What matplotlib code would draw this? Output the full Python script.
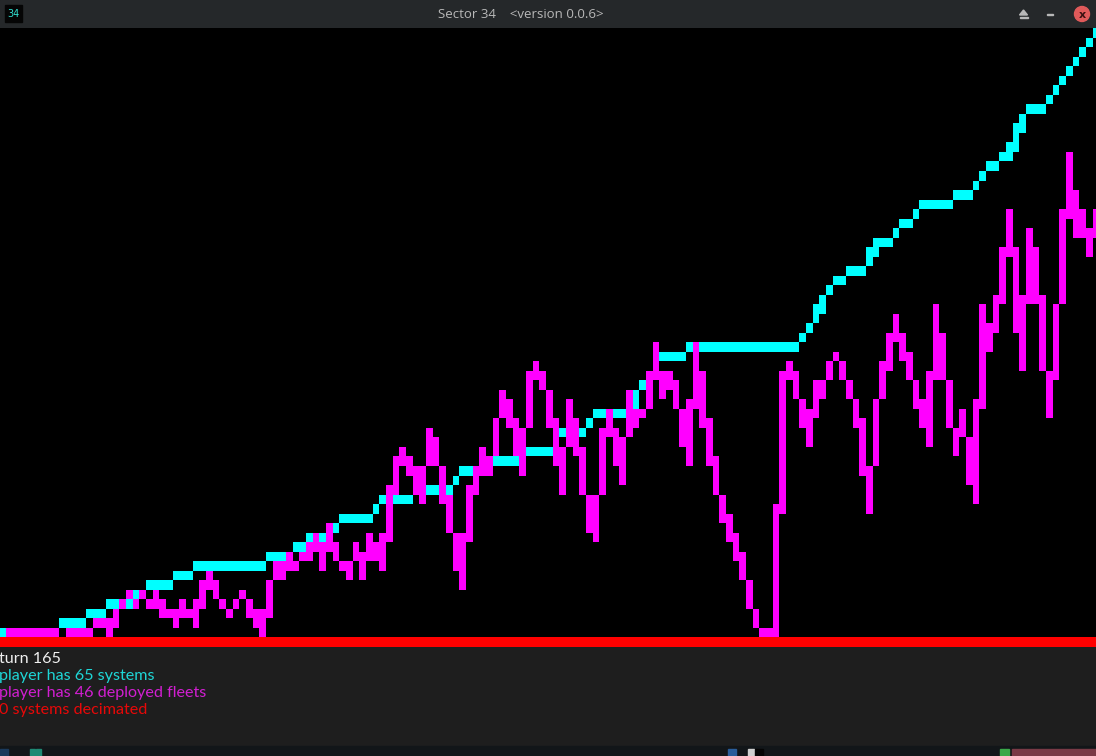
import numpy as np
import matplotlib
matplotlib.use("Agg")
import matplotlib.pyplot as plt
from matplotlib.patches import Rectangle, Circle, Polygon

# ---- data (one value per turn, turns 0..165) ----
turns = list(range(166))
systems = [1,1,1,1,1,1,1,1,1,2,
           2,2,2,3,3,3,4,4,4,4,
           5,5,6,6,6,6,7,7,7,8,
           8,8,8,8,8,8,8,8,8,8,
           9,9,9,9,10,10,11,11,11,11,
           12,13,13,13,13,13,14,15,15,15,
           15,15,16,16,16,16,16,16,17,18,
           18,18,18,18,19,19,19,19,19,20,
           20,20,20,21,22,22,22,22,23,24,
           24,24,24,24,24,26,27,28,29,30,
           30,30,30,31,31,31,31,31,31,31,
           31,31,31,31,31,31,31,31,31,31,
           32,33,34,36,37,38,38,39,39,39,
           40,42,42,42,43,44,44,45,46,46,
           46,46,46,47,47,47,48,49,50,50,
           51,51,53,55,56,56,56,57,58,59,
           60,61,62,63,64,65]
fleets = [0,1,1,1,1,1,1,1,1,0,
          1,1,1,1,2,2,1,3,4,5,
          4,5,4,5,3,3,2,4,3,2,
          6,7,5,4,3,4,5,4,2,1,
          5,8,7,9,8,9,9,11,8,12,
          9,8,7,10,7,11,9,8,14,18,
          20,19,17,15,22,20,17,13,10,6,
          16,16,20,18,21,26,24,22,18,27,
          29,28,25,21,16,25,22,18,13,11,
          20,24,21,17,26,23,24,25,31,26,
          28,26,23,19,31,25,21,17,14,12,
          10,8,5,2,1,1,1,27,29,27,
          24,21,27,26,29,30,29,26,25,21,
          14,23,28,30,34,31,29,26,24,21,
          35,30,25,20,24,19,15,35,31,34,
          38,45,37,29,43,39,33,24,32,39,
          51,43,45,41,45,46]
decimated = [0] * 166

turn_label = "turn 165"
status_lines = ["player has 65 systems", "player has 46 deployed fleets", "0 systems decimated"]
title = "Sector 34    <version 0.0.6>"

# ---- colours ----
CYAN = "#00ffff"
MAGENTA = "#ff00ff"
RED = "#ff0000"

W, H = 1096, 756
fig = plt.figure(figsize=(W / 100, H / 100), dpi=100)
fig.patch.set_facecolor("#1e1e1e")

# background / chrome axes in pixel coordinates
bg = fig.add_axes([0, 0, 1, 1])
bg.set_xlim(0, W)
bg.set_ylim(H, 0)
bg.axis("off")
bg.add_patch(Rectangle((0, 0), W, 28, color="#25282a", zorder=1))
bg.add_patch(Rectangle((0, 746), W, 10, color="#121619", zorder=1))
# small taskbar icons
for x0, wd, c in [(0, 8, "#1b3a5c"), (30, 5, "#1f8a74"), (36, 5, "#1f8a74"), (728, 8, "#2a5d9a"),
                  (748, 6, "#d0d0d0"), (755, 8, "#050505"), (1000, 9, "#3aa848"), (1012, 84, "#7a3a46")]:
    bg.add_patch(Rectangle((x0, 749), wd, 7, color=c, zorder=2))
# window icon
bg.add_patch(Rectangle((5, 5), 17, 17, color="#050505", zorder=2))
bg.text(13.5, 14, "34", color="#30e0d0", fontsize=7, ha="center", va="center",
        family="DejaVu Sans", zorder=3)
bg.text(521, 14, title, color="#b8b8b8", fontsize=9.5, ha="center", va="center",
        family="Open Sans", zorder=3)
# window buttons
bg.add_patch(Polygon([[1019.5, 15], [1027.5, 15], [1023.5, 10]], closed=True, color="#b8b8b8", zorder=3))
bg.add_patch(Rectangle((1019.5, 16.5), 8, 1.6, color="#b8b8b8", zorder=3))
bg.add_patch(Rectangle((1047, 13.5), 6, 1.6, color="#b8b8b8", zorder=3))
bg.add_patch(Circle((1082, 14), 7.5, color="#e05a5a", zorder=3))
bg.text(1082, 14.5, "x", color="#3a1010", fontsize=8, ha="center", va="center",
        family="DejaVu Sans", fontweight="bold", zorder=4)

# status text
text_font = "Lato"
fs = 11.6
bg.text(-1, 659, turn_label, color="#f0f0f0", fontsize=fs, ha="left", va="center", family=text_font, zorder=3)
bg.text(-1, 676, status_lines[0], color="#1ed7d7", fontsize=fs, ha="left", va="center", family=text_font, zorder=3)
bg.text(-1, 693, status_lines[1], color="#d21ed2", fontsize=fs, ha="left", va="center", family=text_font, zorder=3)
bg.text(-1, 710, status_lines[2], color="#e80808", fontsize=fs, ha="left", va="center", family=text_font, zorder=3)

# ---- chart axes ----
col_w = 20 / 3.0          # pixel width of one turn
row_h = 9.516             # pixel height of one unit
y_top, y_bot = 28.0, 646.8
ax = fig.add_axes([0, (H - y_bot) / H, 1, (y_bot - y_top) / H])
ax.set_facecolor("black")
ax.set_xlim(0.1, 0.1 + W / col_w)
ax.set_ylim(0, (y_bot - y_top) / row_h)
for s in ax.spines.values():
    s.set_visible(False)
ax.set_xticks([])
ax.set_yticks([])


def spans(vals):
    """vertical cell span covered by the low-resolution line in each column"""
    v = np.asarray(vals, dtype=float)
    n = len(v)
    lo = np.empty(n)
    hi = np.empty(n)
    for i in range(n):
        pts = [v[i]]
        if i > 0:
            pts.append((v[i - 1] + v[i]) / 2)
        if i < n - 1:
            pts.append((v[i] + v[i + 1]) / 2)
        a, b = min(pts), max(pts)
        lo[i] = np.floor(a - 0.5) + 1
        hi[i] = np.ceil(b + 0.5) - 1
    return lo, hi


def draw_series(vals, color, z):
    lo, hi = spans(vals)
    ax.bar(turns, hi - lo + 1, bottom=lo, width=1.0, align="edge", color=color,
           linewidth=0, antialiased=False, zorder=z)


draw_series(systems, CYAN, 2)
draw_series(fleets, MAGENTA, 3)
draw_series(decimated, RED, 4)

fig.savefig("out.png", dpi=100, facecolor=fig.get_facecolor())
